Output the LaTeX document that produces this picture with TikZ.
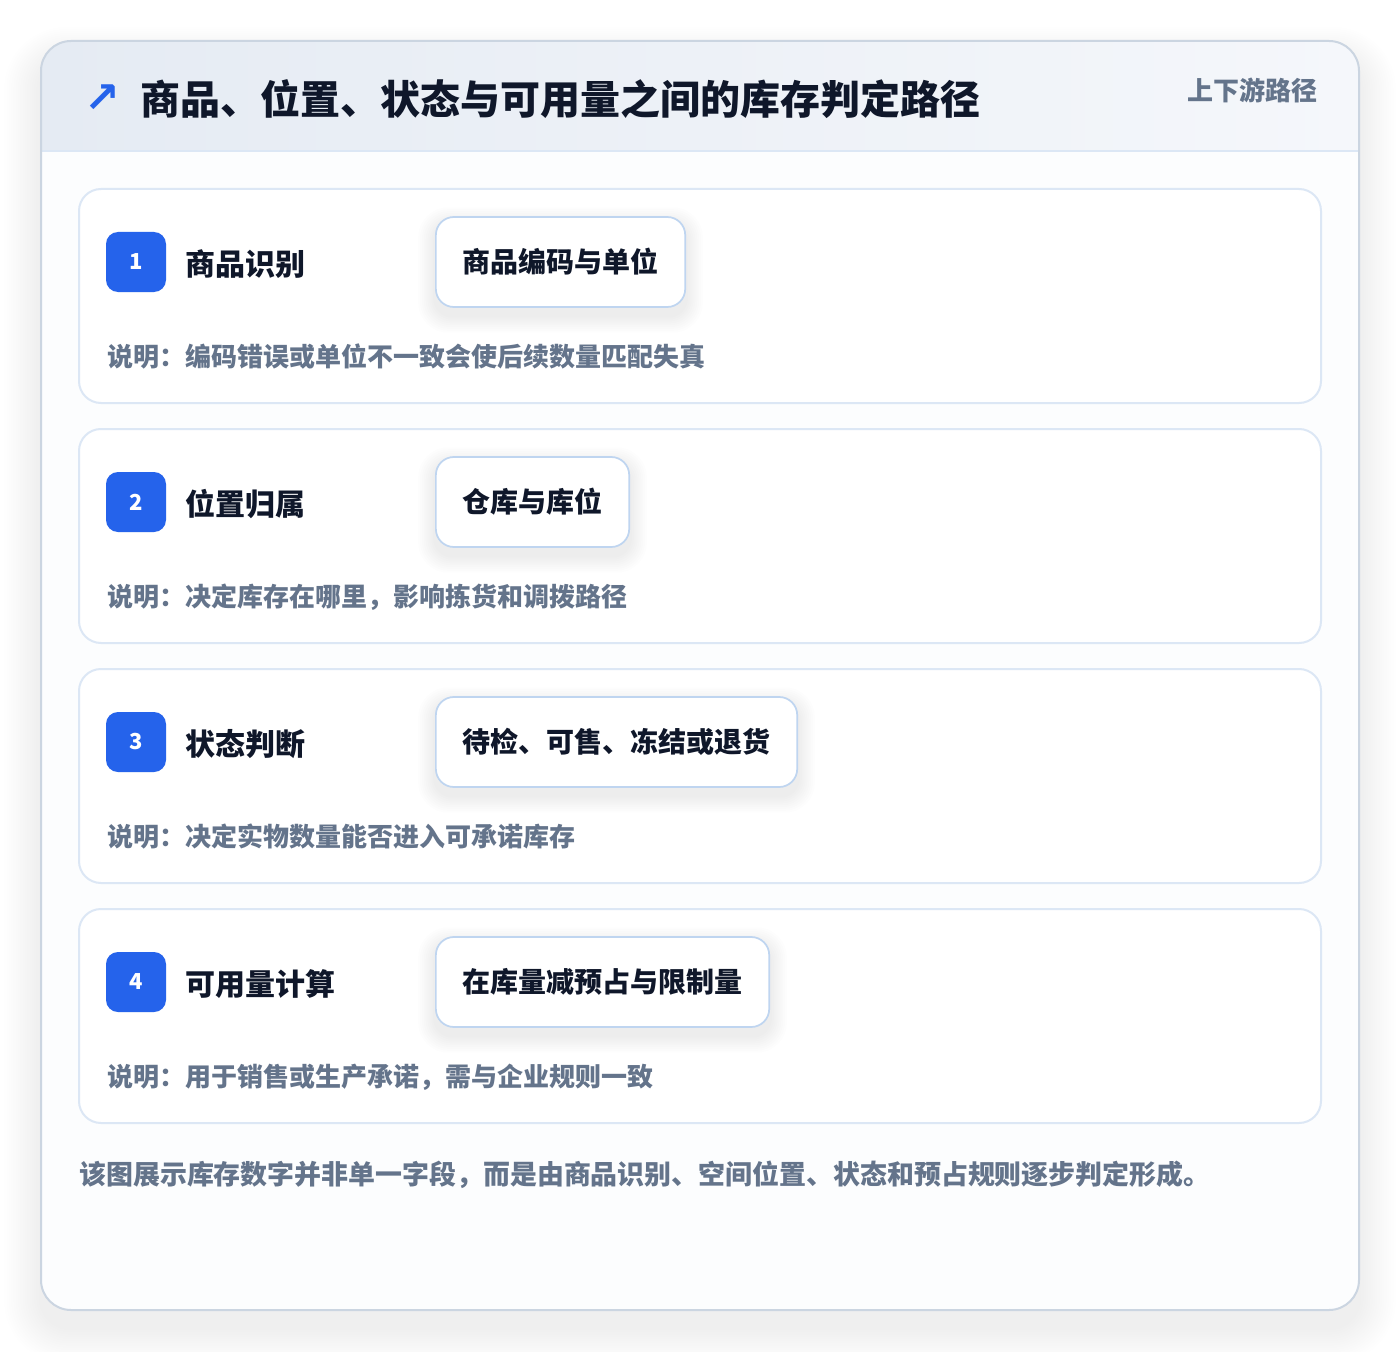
\documentclass[tikz,border=0pt]{standalone}
\usepackage{fontspec}
\setmainfont{Noto Sans CJK SC}
\newfontfamily\symfont{DejaVu Sans}
\usetikzlibrary{backgrounds}
\pgfdeclarelayer{cards}
\pgfdeclarelayer{shad}
\pgfsetlayers{background,cards,shad,main}
\definecolor{bluebadge}{HTML}{2563EB}
\definecolor{ink}{HTML}{0F172A}
\definecolor{muted}{HTML}{64748B}
\definecolor{cardline}{HTML}{DCE7F5}
\definecolor{tagline}{HTML}{BFD5F0}
\definecolor{outerline}{HTML}{CBD5E1}
\definecolor{headA}{HTML}{E5EBF3}
\definecolor{headB}{HTML}{F5F7FB}
\definecolor{bodyfill}{HTML}{FCFDFE}
\tikzset{
  stepcard/.style={draw=cardline, line width=1.5pt, fill=white, rounded corners=16.5pt},
  badge/.style={fill=bluebadge, text=white, rounded corners=9pt, minimum size=45pt, inner sep=0pt,
     font=\bfseries\fontsize{16.5pt}{18pt}\selectfont},
  steptitle/.style={anchor=west, inner sep=0pt, text=ink, font=\bfseries\fontsize{22.5pt}{26pt}\selectfont},
  tagbox/.style={anchor=west, draw=tagline, line width=1.3pt, fill=white, rounded corners=13.5pt,
     minimum height=67.5pt, inner xsep=20pt, text=ink, font=\bfseries\fontsize{21pt}{24pt}\selectfont},
  desc/.style={anchor=west, inner sep=0pt, text=muted, font=\bfseries\fontsize{19.5pt}{22pt}\selectfont},
}
\begin{document}
\begin{tikzpicture}[x=0.75pt, y=-0.75pt]
\useasboundingbox (0,0) rectangle (1400,1352);
\begin{pgfonlayer}{background}
\fill[white] (0,0) rectangle (1400,1352);
% outer shadow
\foreach \i in {1,...,16}{
  \fill[black, opacity=0.0045, rounded corners=22.5pt+\i*1.5pt]
    (41-\i*2.3, 41-\i*2.0+18) rectangle (1359+\i*2.3, 1310+\i*2.2+18);
}
% outer card
\fill[bodyfill, rounded corners=22.5pt] (41,41) rectangle (1359,1310);
\begin{scope}
  \clip[rounded corners=22.5pt] (41,41) rectangle (1359,1310);
  \shade[left color=headA, right color=headB] (41,41) rectangle (1359,151);
\end{scope}
\coordinate (hl) at (41,151);
\coordinate (hr) at (1359,151);
\draw[cardline, line width=1.5pt] (hl) -- (hr);
\draw[outerline, line width=1.5pt, rounded corners=22.5pt] (41,41) rectangle (1359,1310);
\end{pgfonlayer}

% header
\node[anchor=center, inner sep=0pt, text=bluebadge, font=\symfont\bfseries\fontsize{32pt}{34pt}\selectfont] (icon) at (102,99) {↗};
\node[anchor=west, inner sep=0pt, text=ink, font=\bfseries\fontsize{30pt}{34pt}\selectfont] (title) at (140,99) {商品、位置、状态与可用量之间的库存判定路径};
\node[anchor=east, inner sep=0pt, text=muted, font=\bfseries\fontsize{19.5pt}{22pt}\selectfont] (updown) at (1318,90) {上下游路径};

% step cards
\foreach \n/\y/\t/\g/\d in {
  1/189/商品识别/商品编码与单位/说明：编码错误或单位不一致会使后续数量匹配失真,
  2/429/位置归属/仓库与库位/说明：决定库存在哪里，影响拣货和调拨路径,
  3/669/状态判断/待检、可售、冻结或退货/说明：决定实物数量能否进入可承诺库存,
  4/909/可用量计算/在库量减预占与限制量/说明：用于销售或生产承诺，需与企业规则一致}{
  \begin{pgfonlayer}{cards}
    \draw[stepcard] (79,\y) rectangle (1321,\y+214);
  \end{pgfonlayer}
  \node[badge] (b\n) at (136,\y+73) {\n};
  \node[steptitle] (s\n) at (185,\y+75) {\t};
  \node[tagbox] (g\n) at (435,\y+73) {\g};
  \node[desc] (d\n) at (107,\y+168) {\d};
  \begin{pgfonlayer}{shad}
    \foreach \i in {1,...,9}{
      \fill[black, opacity=0.007, rounded corners=13.5pt+\i*1pt]
        ([xshift=-\i*1.4pt, yshift=-\i*1.4pt-6pt]g\n.south west) rectangle ([xshift=\i*1.4pt, yshift=\i*1.4pt-6pt]g\n.north east);
    }
  \end{pgfonlayer}
}

% footer
\node[anchor=west, inner sep=0pt, text=muted, font=\bfseries\fontsize{20.2pt}{24pt}\selectfont] (foot) at (79,1175)
  {该图展示库存数字并非单一字段，而是由商品识别、空间位置、状态和预占规则逐步判定形成。};
\end{tikzpicture}
\end{document}
